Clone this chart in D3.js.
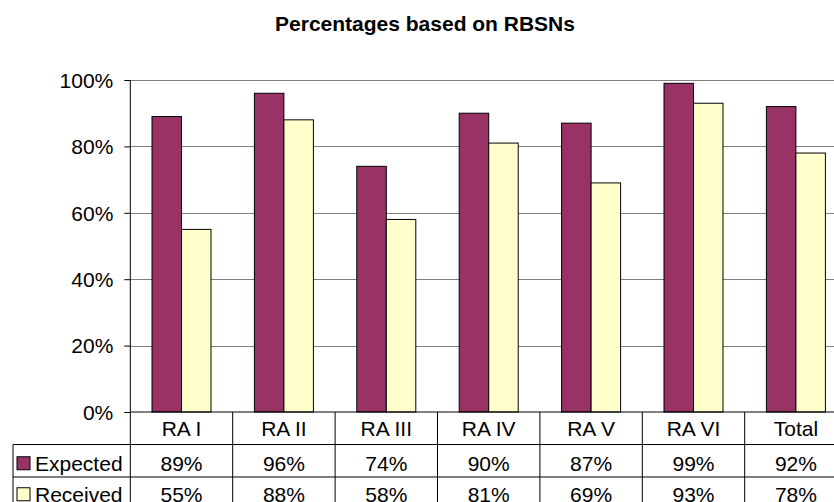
<!DOCTYPE html>
<html>
<head>
<meta charset="utf-8">
<script src="https://cdn.jsdelivr.net/npm/d3@7"></script>
<style>
  html, body { margin: 0; padding: 0; background: #fff; overflow: hidden; }
  svg { display: block; font-family: "Liberation Sans", Arial, sans-serif; }
</style>
</head>
<body>
<svg id="chart"></svg>
<script>
var categories = ["RA I", "RA II", "RA III", "RA IV", "RA V", "RA VI", "Total"];
var seriesNames = ["Expected", "Received"];
var expected = [89, 96, 74, 90, 87, 99, 92];
var received = [55, 88, 58, 81, 69, 93, 78];
var yTicks = [0, 20, 40, 60, 80, 100];

var colors = { "Expected": "#993366", "Received": "#FFFFCC" };

var width = 834, height = 502;
var plotLeft = 130.3, plotTop = 80, plotBottom = 412;
var colW = 102.4;
var plotRight = plotLeft + colW * categories.length;
var rowH = 32.5;
var legendLeft = 13;
var fontSize = "21px";
var rowShift = [2.5, 1]; // text sits a bit low in the data rows

var svg = d3.select("#chart").attr("width", width).attr("height", height);

var x = d3.scaleBand().domain(categories).range([plotLeft, plotRight]).padding(0);
var xs = d3.scaleBand().domain(seriesNames).range([21.7, 80.7]).padding(0);
var y = d3.scaleLinear().domain([0, 100]).range([plotBottom, plotTop]);

// title
svg.append("text")
    .attr("x", 425)
    .attr("y", 31)
    .attr("text-anchor", "middle")
    .style("font-size", fontSize)
    .style("font-weight", "bold")
    .text("Percentages based on RBSNs");

// gridlines
svg.append("g")
    .selectAll("line")
    .data(yTicks.filter(function(d) { return d > 0; }))
    .enter()
    .append("line")
    .attr("x1", plotLeft)
    .attr("x2", plotRight)
    .attr("y1", function(d) { return Math.round(y(d)) + 0.5; })
    .attr("y2", function(d) { return Math.round(y(d)) + 0.5; })
    .attr("stroke", "#808080")
    .attr("stroke-width", 1);

// y axis
var yAxis = d3.axisLeft(y)
    .tickValues(yTicks)
    .tickSize(6)
    .tickPadding(11)
    .tickFormat(function(d) { return d + "%"; });

var gy = svg.append("g")
    .attr("transform", "translate(" + plotLeft + ",0)")
    .call(yAxis);
gy.select(".domain").remove();
gy.selectAll(".tick line").attr("stroke", "#000");
gy.selectAll(".tick text")
    .style("font-size", fontSize)
    .style("font-family", "Liberation Sans, Arial, sans-serif")
    .attr("fill", "#000")
    .attr("dy", "0.35em");
svg.append("line")
    .attr("x1", plotLeft).attr("x2", plotLeft)
    .attr("y1", plotTop).attr("y2", plotBottom)
    .attr("stroke", "#000");

// bars
var rows = categories.map(function(c, i) {
    return { cat: c, vals: [
        { name: "Expected", v: expected[i] },
        { name: "Received", v: received[i] }
    ]};
});

var groups = svg.append("g")
    .selectAll("g")
    .data(rows)
    .enter()
    .append("g")
    .attr("transform", function(d) { return "translate(" + x(d.cat) + ",0)"; });

groups.selectAll("rect")
    .data(function(d) { return d.vals; })
    .enter()
    .append("rect")
    .attr("x", function(d) { return xs(d.name); })
    .attr("y", function(d) { return y(d.v); })
    .attr("width", xs.bandwidth())
    .attr("height", function(d) { return plotBottom - y(d.v); })
    .attr("fill", function(d) { return colors[d.name]; })
    .attr("stroke", "#000")
    .attr("stroke-width", 1);

// data table
var table = svg.append("g");
var tableBottom = plotBottom + rowH * 3;

// horizontal lines
table.append("line")
    .attr("x1", plotLeft).attr("x2", plotRight)
    .attr("y1", plotBottom).attr("y2", plotBottom)
    .attr("stroke", "#000");
[1, 2, 3].forEach(function(r) {
    table.append("line")
        .attr("x1", legendLeft).attr("x2", plotRight)
        .attr("y1", plotBottom + rowH * r).attr("y2", plotBottom + rowH * r)
        .attr("stroke", "#000");
});
// vertical lines
table.append("line")
    .attr("x1", legendLeft).attr("x2", legendLeft)
    .attr("y1", plotBottom + rowH).attr("y2", tableBottom)
    .attr("stroke", "#000");
table.selectAll(".vline")
    .data(categories.concat(["end"]))
    .enter()
    .append("line")
    .attr("class", "vline")
    .attr("x1", function(d, i) { return plotLeft + colW * i; })
    .attr("x2", function(d, i) { return plotLeft + colW * i; })
    .attr("y1", plotBottom)
    .attr("y2", tableBottom)
    .attr("stroke", "#000");

// header row
table.selectAll(".hdr")
    .data(categories)
    .enter()
    .append("text")
    .attr("class", "hdr")
    .attr("x", function(d) { return x(d) + x.bandwidth() / 2; })
    .attr("y", plotBottom + rowH / 2)
    .attr("dy", "0.35em")
    .attr("text-anchor", "middle")
    .style("font-size", fontSize)
    .text(function(d) { return d; });

// series rows
[expected, received].forEach(function(vals, r) {
    var name = seriesNames[r];
    var cy = plotBottom + rowH * (r + 1) + rowH / 2 + rowShift[r];
    table.append("rect")
        .attr("x", 17)
        .attr("y", cy - 6.5)
        .attr("width", 13)
        .attr("height", 13)
        .attr("fill", colors[name])
        .attr("stroke", "#000");
    table.append("text")
        .attr("x", 35)
        .attr("y", cy)
        .attr("dy", "0.35em")
        .style("font-size", fontSize)
        .text(name);
    table.selectAll(".val" + r)
        .data(vals)
        .enter()
        .append("text")
        .attr("class", "val" + r)
        .attr("x", function(d, i) { return x(categories[i]) + x.bandwidth() / 2; })
        .attr("y", cy)
        .attr("dy", "0.35em")
        .attr("text-anchor", "middle")
        .style("font-size", fontSize)
        .text(function(d) { return d + "%"; });
});
</script>
</body>
</html>
